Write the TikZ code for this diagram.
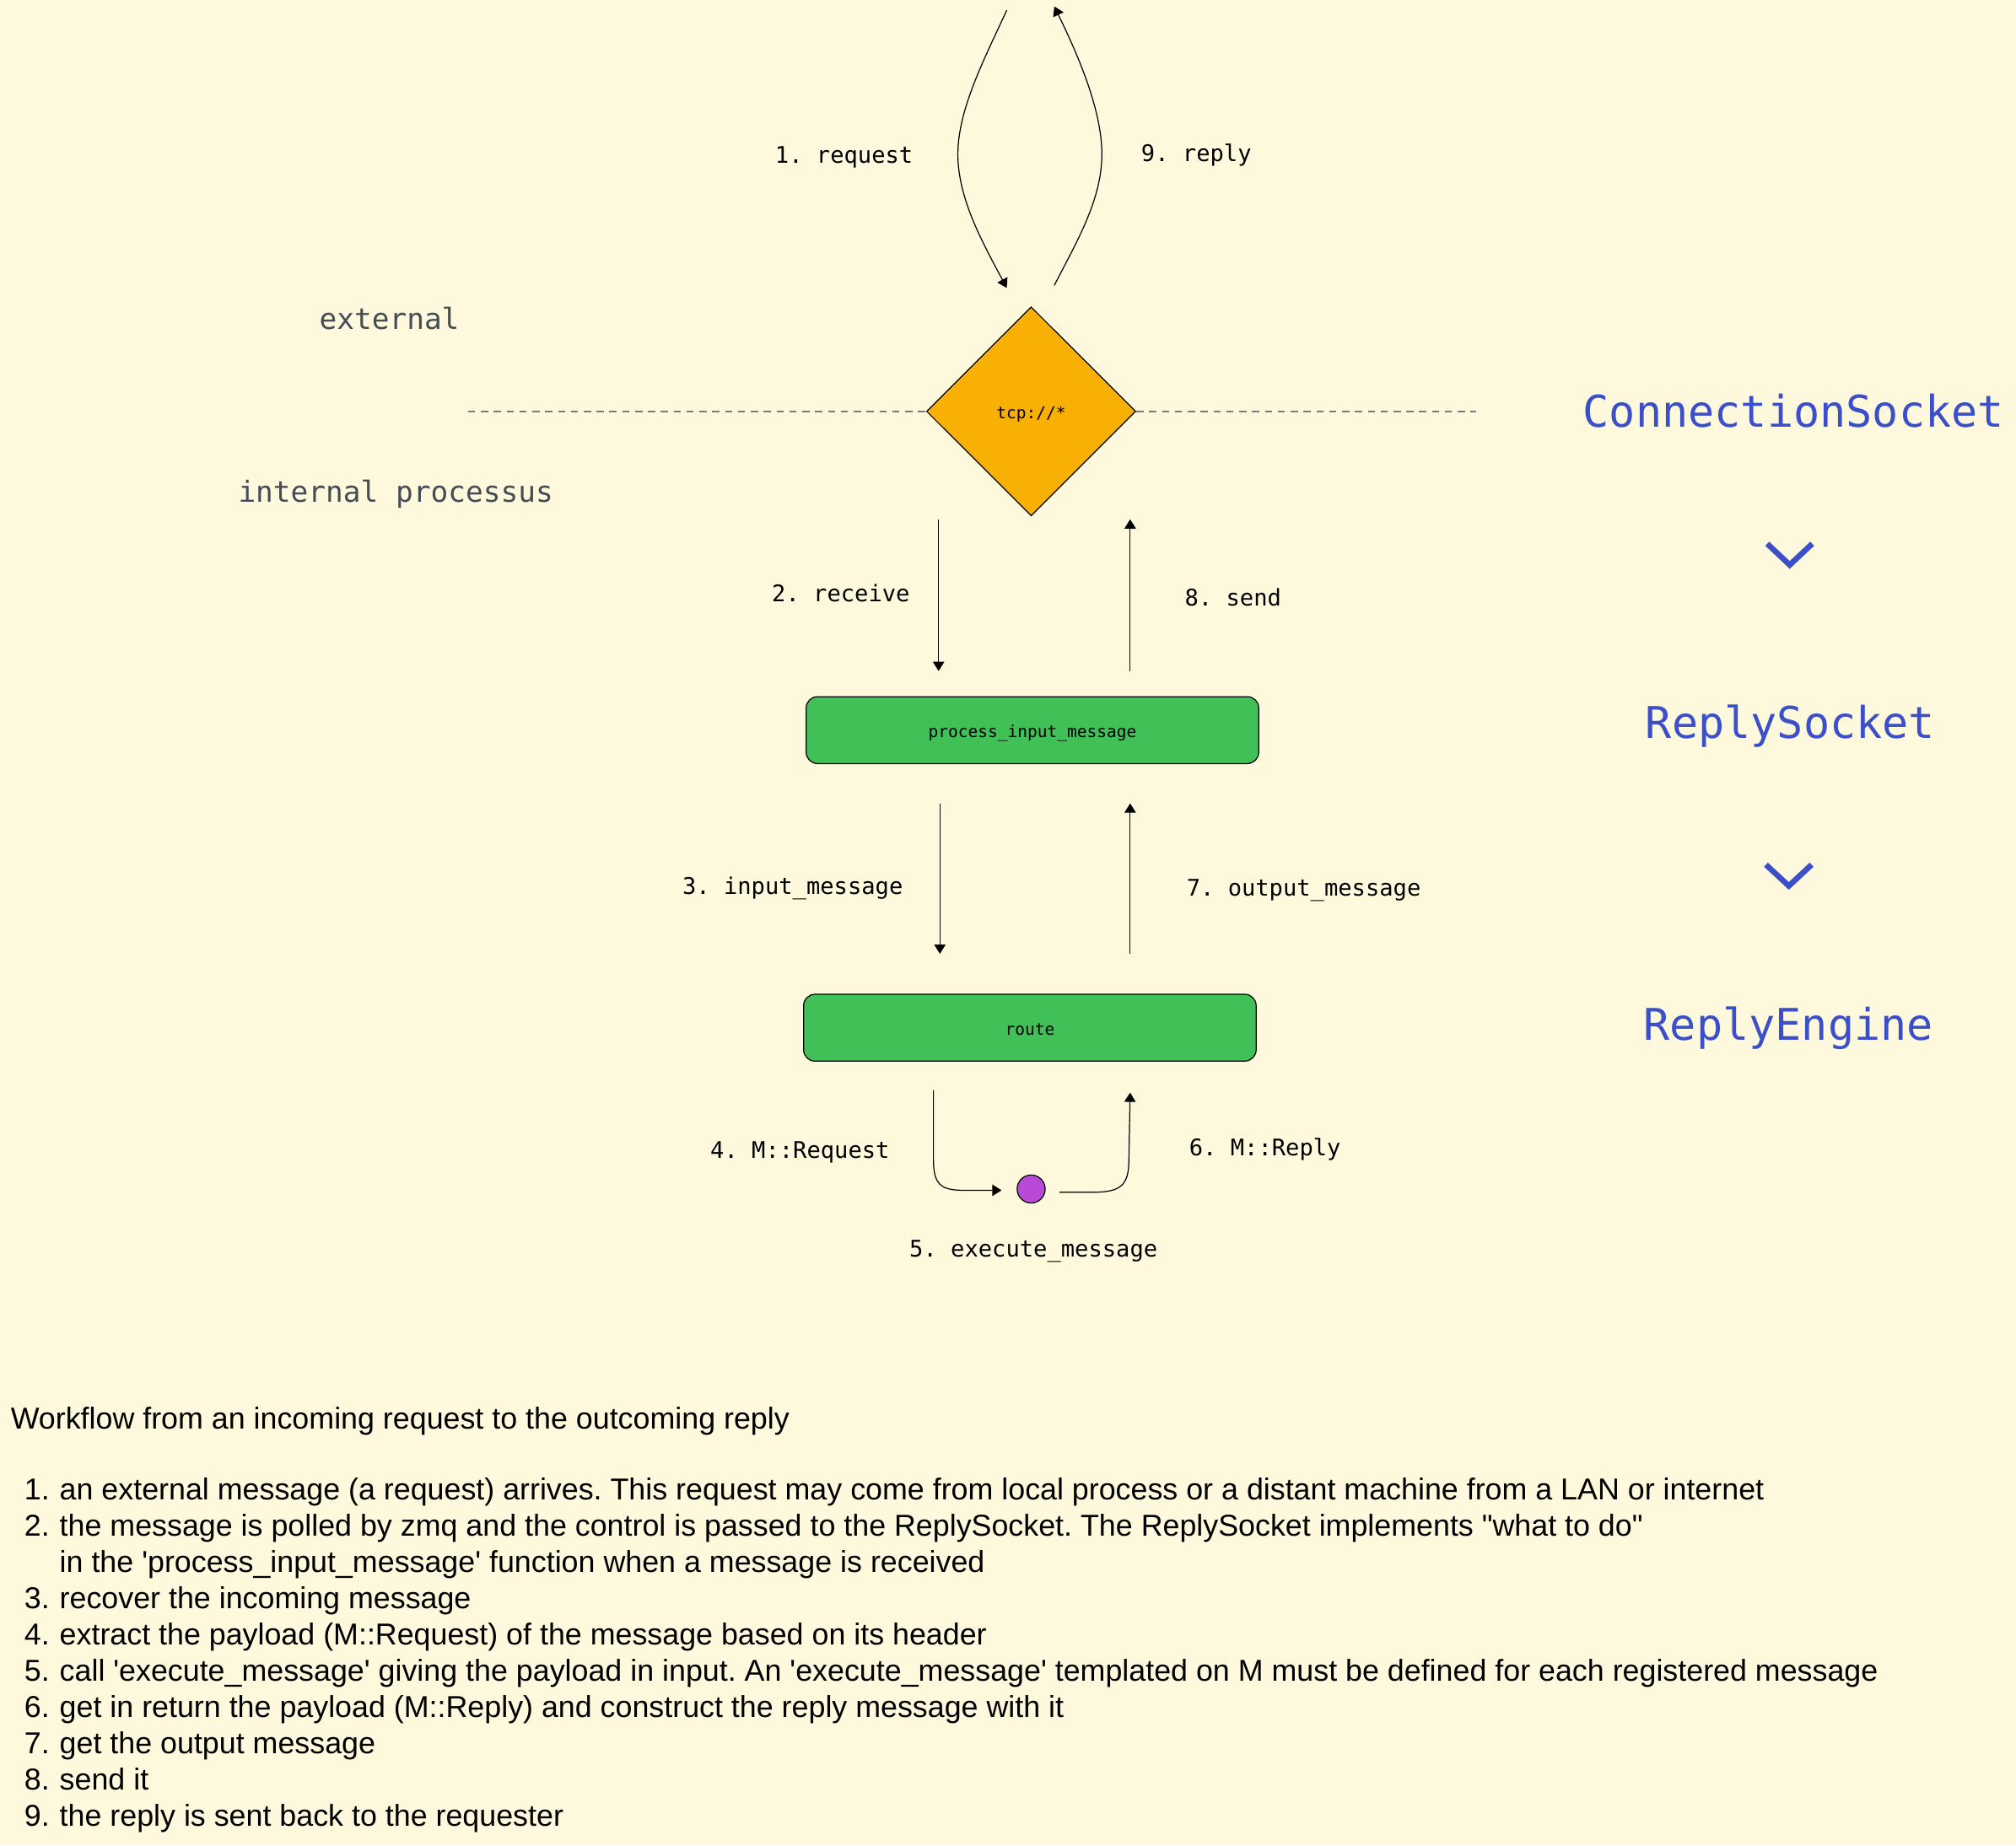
\documentclass[tikz,border=0pt]{standalone}
\usepackage{fontspec}
\setmainfont{Liberation Sans}[Ligatures=TeXOff]
\newfontfamily\dmono{DejaVu Sans Mono}
\usetikzlibrary{arrows.meta,shapes.geometric}
\definecolor{bgc}{HTML}{FEF9DC}
\definecolor{orangec}{HTML}{F9B005}
\definecolor{greenc}{HTML}{41C057}
\definecolor{purplec}{HTML}{B94AD8}
\definecolor{bluec}{HTML}{3B50C8}
\definecolor{grayt}{HTML}{454C55}
\definecolor{dashc}{HTML}{7A7A7A}
\frenchspacing
\begin{document}
\frenchspacing
\begin{tikzpicture}[x=0.5pt,y=-0.5pt,
  conn/.style={draw=black, line width=0.4pt, -{Triangle[length=3.6pt,width=4.4pt]}},
  steplbl/.style={font=\dmono\fontsize{8.9}{10}\selectfont, inner sep=0, anchor=base},
  boxtxt/.style={font=\dmono\fontsize{6.4}{7}\selectfont, text height=6.7pt, text depth=0.95pt},
  procbox/.style={draw=black, line width=0.4pt, fill=greenc, rounded corners=4.4pt, minimum width=176pt, minimum height=26pt, inner sep=0, boxtxt},
  layer/.style={font=\dmono\fontsize{17}{20}\selectfont, text=bluec, inner sep=0, anchor=base},
  zone/.style={font=\dmono\fontsize{11.3}{13}\selectfont, text=grayt, inner sep=0, anchor=base},
  chev/.style={draw=bluec, line width=2.2pt, line join=miter},
  sepline/.style={draw=dashc, line width=0.5pt, dash pattern=on 2.8pt off 2.2pt},
  body/.style={font=\fontsize{11.75}{13}\selectfont, inner sep=0, anchor=base west},
  num/.style={font=\fontsize{11.75}{13}\selectfont, inner sep=0, anchor=base east},
]
\fill[bgc] (0,0) rectangle (1568,1435.5);
\useasboundingbox (0,0) rectangle (1568,1435.5);

% main nodes
\node[diamond, draw=black, line width=0.4pt, fill=orangec, minimum width=81.4pt, minimum height=81.3pt, inner sep=0, boxtxt] (sock) at (802,320) {tcp://*};
\node[procbox] (proc) at (803,568) {process\_input\_message};
\node[procbox] (route) at (801,799.5) {route};
\node[circle, draw=black, line width=0.4pt, fill=purplec, minimum size=10.9pt, inner sep=0] (exec) at (802,925) {};

% separator
\coordinate (dl) at (364,320);
\coordinate (dr) at (1148,320);
\draw[sepline] (dl) -- (sock.west);
\draw[sepline] (sock.east) -- (dr);

% zone labels
\node[zone] (ext) at (302.8,256.3) {external};
\node[zone] (int) at (307.8,390.4) {internal processus};

% layer labels
\node[layer] (lcs) at (1395,332.5) {ConnectionSocket};
\node[layer] (lrs) at (1392.5,574.2) {ReplySocket};
\node[layer] (lre) at (1391,809) {ReplyEngine};
\coordinate (c1a) at (1374.5,423); \coordinate (c1b) at (1392,439.5); \coordinate (c1c) at (1409.5,423);
\coordinate (c2a) at (1373.5,672.7); \coordinate (c2b) at (1391.3,689.2); \coordinate (c2c) at (1409,672.7);
\draw[chev] (c1a) -- (c1b) -- (c1c);
\draw[chev] (c2a) -- (c2b) -- (c2c);

% top curves
\coordinate (reqs) at (783,8);
\coordinate (reqe) at (783,224);
\coordinate (reps) at (820,222);
\coordinate (repe) at (820,5);
\draw[conn] (reqs) .. controls (766,45) and (745,85) .. (745,120) .. controls (745,155) and (765,190) .. (reqe);
\draw[conn] (reps) .. controls (838,187) and (857,155) .. (857,120) .. controls (857,85) and (838,42) .. (repe);
\node[steplbl] (l1) at (656.5,127) {1. request};
\node[steplbl] (l9) at (930.5,125.8) {9. reply};

% diamond <-> proc
\coordinate (a2s) at (730,404); \coordinate (a2e) at (730,522);
\coordinate (a8s) at (879,522); \coordinate (a8e) at (879,404);
\draw[conn] (a2s) -- (a2e);
\draw[conn] (a8s) -- (a8e);
\node[steplbl] (l2) at (654,468.3) {2. receive};
\node[steplbl] (l8) at (959,471.3) {8. send};

% proc <-> route
\coordinate (a3s) at (731,625); \coordinate (a3e) at (731,742);
\coordinate (a7s) at (879,742); \coordinate (a7e) at (879,625);
\draw[conn] (a3s) -- (a3e);
\draw[conn] (a7s) -- (a7e);
\node[steplbl] (l3) at (616.5,696) {3. input\_message};
\node[steplbl] (l7) at (1014,696.9) {7. output\_message};

% route <-> exec
\coordinate (a4s) at (726,848); \coordinate (a4e) at (779,926);
\coordinate (a6s) at (824,927.5); \coordinate (a6e) at (879,850);
\draw[conn] (a4s) -- (726,902) .. controls (726,922) and (732,926) .. (750,926) -- (a4e);
\draw[conn] (a6s) -- (850,927.5) .. controls (872,927.5) and (878,922) .. (878,902) -- (a6e);
\node[steplbl] (l4) at (622.2,901) {4. M::Request};
\node[steplbl] (l6) at (983.9,899) {6. M::Reply};
\node[steplbl] (l5) at (803.8,977.6) {5. execute\_message};

% description
\node[body] (title) at (8,1111.5) {Workflow from an incoming request to the outcoming reply};
\node[num] (n1) at (39,1167) {1.};
\node[body] (t1) at (46,1167) {an external message (a request) arrives. This request may come from local process or a distant machine from a LAN or internet};
\node[num] (n2) at (39,1195.2) {2.};
\node[body] (t2) at (46,1195.2) {the message is polled by zmq and the control is passed to the ReplySocket. The ReplySocket implements "what to do"};
\node[body] (t2b) at (46,1223.4) {in the 'process\_input\_message' function when a message is received};
\node[num] (n3) at (39,1251.6) {3.};
\node[body] (t3) at (46,1251.6) {recover the incoming message};
\node[num] (n4) at (39,1279.8) {4.};
\node[body] (t4) at (46,1279.8) {extract the payload (M::Request) of the message based on its header};
\node[num] (n5) at (39,1308) {5.};
\node[body] (t5) at (46,1308) {call 'execute\_message' giving the payload in input. An 'execute\_message' templated on M must be defined for each registered message};
\node[num] (n6) at (39,1336.2) {6.};
\node[body] (t6) at (46,1336.2) {get in return the payload (M::Reply) and construct the reply message with it};
\node[num] (n7) at (39,1364.4) {7.};
\node[body] (t7) at (46,1364.4) {get the output message};
\node[num] (n8) at (39,1392.6) {8.};
\node[body] (t8) at (46,1392.6) {send it};
\node[num] (n9) at (39,1420.8) {9.};
\node[body] (t9) at (46,1420.8) {the reply is sent back to the requester};
\end{tikzpicture}
\end{document}
